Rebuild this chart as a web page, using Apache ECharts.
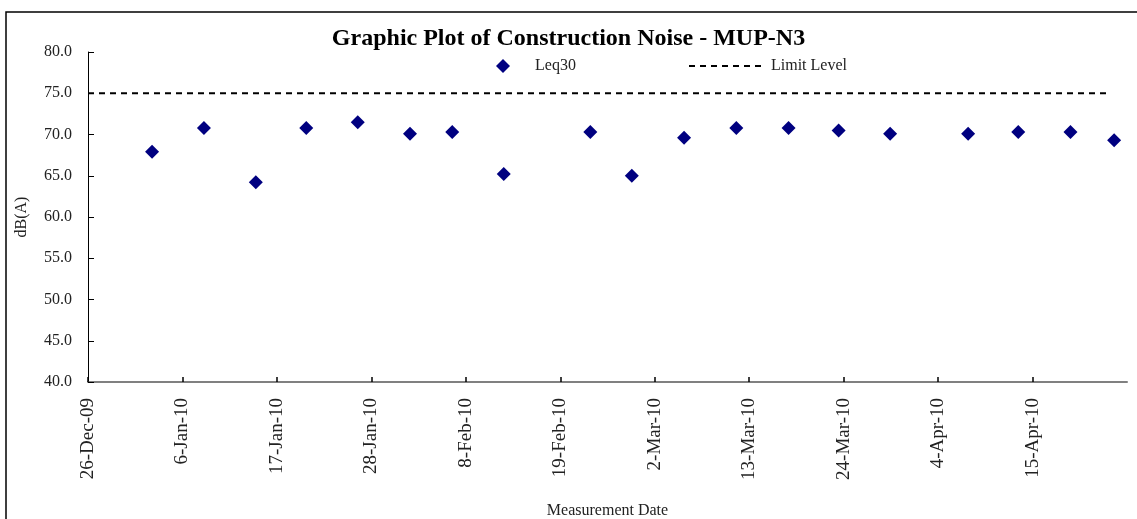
<!DOCTYPE html>
<html>
<head>
<meta charset="utf-8">
<script src="https://cdn.jsdelivr.net/npm/echarts@6/dist/echarts.min.js"></script>
<style>
html,body{margin:0;padding:0;background:#fff;}
#c{width:1137px;height:519px;}
</style>
</head>
<body>
<div id="c"></div>
<script>
// ---- data ----
var startDate = '2009-12-26';
var endDate = '2010-04-26';
var tickDays = 11;
var measureDates = ['2010-01-02 11:00','2010-01-08 12:00','2010-01-14 13:00','2010-01-20 10:00','2010-01-26 10:00',
  '2010-02-01 12:00','2010-02-06 10:00','2010-02-12 10:00','2010-02-22 12:00','2010-02-27 08:00',
  '2010-03-05 10:00','2010-03-11 12:00','2010-03-17 14:00','2010-03-23 10:00','2010-03-29 10:00',
  '2010-04-07 12:00','2010-04-13 08:00','2010-04-19 10:00','2010-04-24 12:00'];
var leq30 = [67.9,70.8,64.2,70.8,71.5,70.1,70.3,65.2,70.3,65.0,69.6,70.8,70.8,70.5,70.1,70.1,70.3,70.3,69.3];
var limitDates = ['2009-12-26','2010-04-24'];
var limitValues = [75,75];
var months = ['Jan','Feb','Mar','Apr','May','Jun','Jul','Aug','Sep','Oct','Nov','Dec'];

function toUTC(s){ return Date.parse(s.replace(' ','T') + (s.length>10?':00Z':'T00:00:00Z')); }
var t0 = toUTC(startDate);
function dayOf(s){ return (toUTC(s)-t0)/86400000; }
var maxDay = dayOf(endDate);
function fmt(v){
  var d = new Date(t0 + v*86400000);
  var yy = String(d.getUTCFullYear()%100); if(yy.length<2) yy='0'+yy;
  return d.getUTCDate()+'-'+months[d.getUTCMonth()]+'-'+yy;
}
var leqData = measureDates.map(function(s,i){ return [dayOf(s), leq30[i]]; });
var limitData = limitDates.map(function(s,i){ return [dayOf(s), limitValues[i]]; });

var FONT = "'Liberation Serif','Times New Roman',serif";
var chart = echarts.init(document.getElementById('c'));
chart.setOption({
  animation:false,
  backgroundColor:'#fff',
  textStyle:{fontFamily:FONT},
  graphic:[{type:'rect',shape:{x:6,y:12,width:1200,height:600},style:{fill:'none',stroke:'#000',lineWidth:1.5},silent:true}],
  title:{text:'Graphic Plot of Construction Noise - MUP-N3',left:'center',top:22,
    textStyle:{fontFamily:FONT,fontSize:24,fontWeight:'bold',color:'#000'}},
  legend:[
    {data:['Leq30'],left:496,top:58,padding:0,itemWidth:14,itemHeight:14,
      textStyle:{fontFamily:FONT,fontSize:16,color:'#222',padding:[0,0,0,20]}},
    {data:[{name:'Limit Level',itemStyle:{opacity:0}}],left:688,top:58,padding:0,itemWidth:77,itemHeight:14,
      textStyle:{fontFamily:FONT,fontSize:16,color:'#222'}}
  ],
  grid:{left:88,right:10,top:52,bottom:137,containLabel:false,outerBoundsMode:'none'},
  xAxis:{type:'value',min:0,max:maxDay,interval:tickDays,
    name:'Measurement Date',nameLocation:'middle',nameGap:121,
    nameTextStyle:{fontFamily:FONT,fontSize:16,color:'#222'},
    axisLine:{lineStyle:{color:'#808080',width:2}},
    axisTick:{inside:true,length:5,lineStyle:{color:'#000',width:1.5}},
    axisLabel:{rotate:90,margin:16,fontFamily:FONT,fontSize:19,color:'#222',showMaxLabel:false,
      formatter:function(v){return fmt(v);}},
    splitLine:{show:false}},
  yAxis:{type:'value',min:40,max:80,interval:5,
    name:'dB(A)',nameLocation:'middle',nameGap:58,nameRotate:90,
    nameTextStyle:{fontFamily:FONT,fontSize:16,color:'#222'},
    axisLine:{show:true,lineStyle:{color:'#000',width:1}},
    axisTick:{show:true,inside:true,length:6,lineStyle:{color:'#000'}},
    axisLabel:{margin:16,fontFamily:FONT,fontSize:16,color:'#222',formatter:function(v){return v.toFixed(1);}},
    splitLine:{show:false}},
  series:[
    {name:'Leq30',type:'scatter',symbol:'diamond',symbolSize:14,data:leqData,
      itemStyle:{color:'#000080',opacity:1}},
    {name:'Limit Level',type:'line',symbol:'none',data:limitData,
      lineStyle:{color:'#000',width:2,type:[6,5]},itemStyle:{color:'#000'}}
  ]
});
</script>
</body>
</html>
